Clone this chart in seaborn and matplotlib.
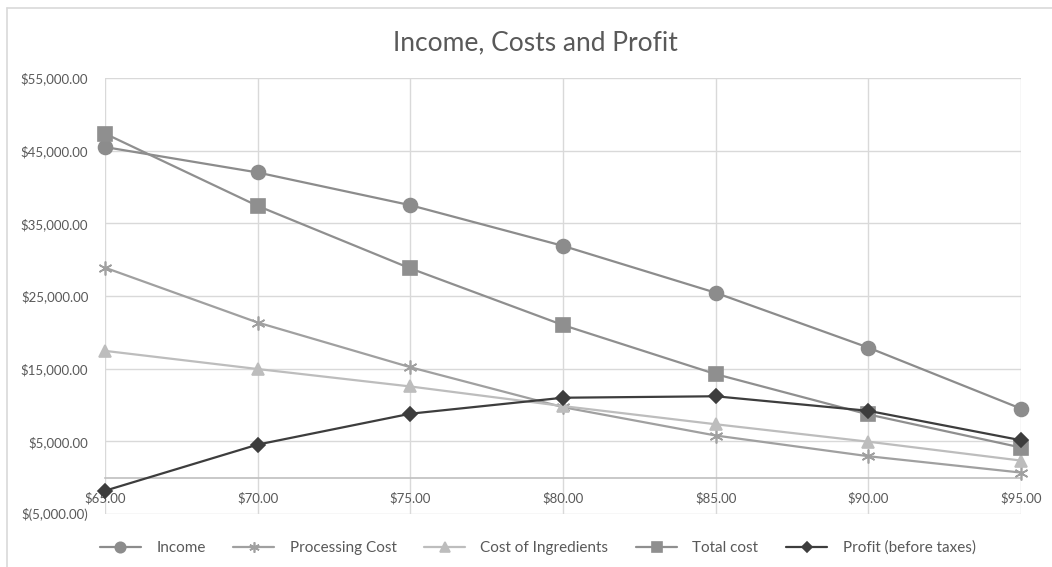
import numpy as np
import pandas as pd
import matplotlib
matplotlib.use("Agg")
import matplotlib.pyplot as plt
from matplotlib.lines import Line2D
from matplotlib.ticker import FuncFormatter
import seaborn as sns

# Данные
prices = [65, 70, 75, 80, 85, 90, 95]
income = [45500, 42000, 37500, 31900, 25450, 17900, 9500]
processing_cost = [28900, 21350, 15200, 9700, 5800, 2950, 700]
ingredients_cost = [17450, 14950, 12550, 9850, 7350, 4950, 2350]
total_cost = [47350, 37400, 28800, 21000, 14250, 8700, 4150]
profit = [-1800, 4550, 8800, 11000, 11200, 9200, 5150]

series_names = ["Income", "Processing Cost", "Cost of Ingredients",
                "Total cost", "Profit (before taxes)"]
series_values = [income, processing_cost, ingredients_cost, total_cost, profit]

colors = ["#8c8c8c", "#a0a0a0", "#bdbdbd", "#8f8f8f", "#3d3d3d"]
markers = ["o", (6, 2, 0), "^", "s", "D"]
msizes = [10, 10, 9, 10, 7]

sns.set_style("white")
plt.rcParams["font.family"] = ["Lato", "DejaVu Sans"]
text_col = "#595959"

fig = plt.figure(figsize=(10.52, 5.67), dpi=100)
ax = fig.add_axes([0.0998, 0.0935, 0.8707, 0.7689])

for name, vals, c, m, ms in zip(series_names, series_values, colors, markers, msizes):
    sns.lineplot(x=prices, y=vals, ax=ax, color=c, marker=m, markersize=ms,
                 markeredgecolor=c, markeredgewidth=1.2, linewidth=1.6,
                 label=name, legend=False, clip_on=False, zorder=3)

ax.set_xlim(65, 95)
ax.set_ylim(-5000, 55000)
ax.set_xticks(prices)
ax.set_yticks(np.arange(-5000, 55001, 10000))


def money(v, pos=None):
    if v < 0:
        return "$({:,.2f})".format(-v)
    return "${:,.2f}".format(v)


ax.yaxis.set_major_formatter(FuncFormatter(money))
ax.xaxis.set_major_formatter(FuncFormatter(lambda v, p: "${:.2f}".format(v)))

ax.grid(True, color="#d9d9d9", linewidth=1)
ax.set_axisbelow(True)
for s in ["top", "right", "left"]:
    ax.spines[s].set_visible(False)
ax.spines["bottom"].set_position(("data", 0))
ax.spines["bottom"].set_color("#bfbfbf")
ax.spines["bottom"].set_linewidth(1.2)
ax.tick_params(axis="both", length=0, labelsize=9.5, labelcolor=text_col)
ax.tick_params(axis="x", pad=10)
ax.tick_params(axis="y", pad=12)

fig.text(0.509, 0.925, "Income, Costs and Profit", ha="center", va="center",
         fontsize=19, color=text_col)

handles, labels = ax.get_legend_handles_labels()
fig.legend(handles, labels, loc="center", bbox_to_anchor=(0.511, 0.034), ncol=5,
           frameon=False, fontsize=11, labelcolor=text_col, handlelength=2.7,
           columnspacing=1.8, handletextpad=1.0, markerscale=0.75)

# рамка диаграммы
fig.add_artist(Line2D([0.0067, 1.0], [1 - 8 / 567, 1 - 8 / 567], color="#d9d9d9",
                      linewidth=1.2, transform=fig.transFigure))
fig.add_artist(Line2D([0.0067, 0.0067], [0, 1 - 8 / 567], color="#d9d9d9",
                      linewidth=1.2, transform=fig.transFigure))

fig.savefig("out.png", dpi=100)
